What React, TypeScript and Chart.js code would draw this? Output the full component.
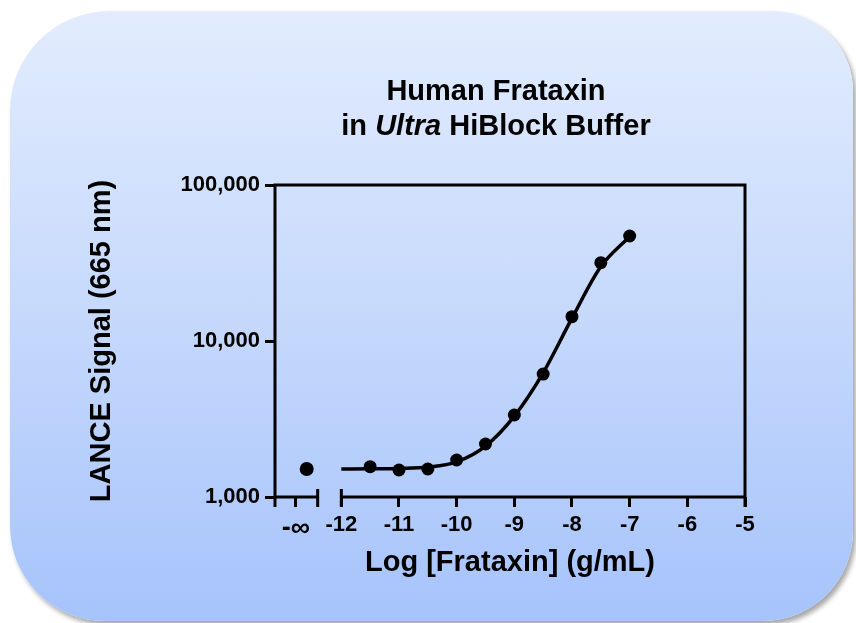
import React, { useEffect, useRef } from "react";
import { Chart, registerables } from "chart.js";

Chart.register(...registerables);

// ---- text ----
const TITLE_LINE_1 = "Human Frataxin";
const TITLE_LINE_2_PRE = "in ";
const TITLE_LINE_2_ITALIC = "Ultra";
const TITLE_LINE_2_POST = " HiBlock Buffer";
const X_TITLE = "Log [Frataxin] (g/mL)";
const Y_TITLE = "LANCE Signal (665 nm)";

// ---- data ----
const logConc = [-11.5, -11, -10.5, -10, -9.5, -9, -8.5, -8, -7.5, -7];
const signal = [1564, 1490, 1512, 1726, 2187, 3354, 6141, 14310, 31770, 47100];

// zero-concentration (blank) point, plotted in the "-∞" segment
const blankX = [-12.6];
const blankSignal = [1512];

// fitted curve
const fitX = [-12, -11.5, -11, -10.5, -10, -9.5, -9, -8.5, -8, -7.5, -7];
const fitY = [1510, 1515, 1525, 1555, 1680, 2120, 3300, 6250, 14000, 30000, 46800];

// ---- axes ----
const xTickValues = [-12, -11, -10, -9, -8, -7, -6, -5];
const negInfTick = -12.79;
const negInfLabel = "-∞";
const xMin = -13.15;
const xMax = -5;
const breakEnd = -12.41; // right end of the "-∞" segment
const yTickValues = [1000, 10000, 100000];
const yMin = 1000;
const yMax = 100000;

const FONT_FAMILY = "'Liberation Sans', Arial, Helvetica, sans-serif";

const framePlugin = {
  id: "frame",
  beforeDatasetsDraw(chart: any) {
    const { ctx, chartArea: a, scales } = chart;
    const x = scales.x;
    const xb = x.getPixelForValue(breakEnd);
    const x12 = x.getPixelForValue(-12);
    ctx.save();
    ctx.strokeStyle = "#000";
    ctx.lineWidth = 3;
    ctx.lineCap = "butt";
    ctx.beginPath();
    // left axis (with extension below)
    ctx.moveTo(a.left, a.top - 1.5);
    ctx.lineTo(a.left, a.bottom + 10);
    // top frame
    ctx.moveTo(a.left - 1.5, a.top);
    ctx.lineTo(a.right + 1.5, a.top);
    // right frame (with extension below)
    ctx.moveTo(a.right, a.top - 1.5);
    ctx.lineTo(a.right, a.bottom + 10);
    // bottom axis, broken
    ctx.moveTo(a.left, a.bottom);
    ctx.lineTo(xb, a.bottom);
    ctx.moveTo(x12, a.bottom);
    ctx.lineTo(a.right, a.bottom);
    // end caps at the break
    ctx.moveTo(xb, a.bottom - 8);
    ctx.lineTo(xb, a.bottom + 10);
    ctx.moveTo(x12, a.bottom - 8);
    ctx.lineTo(x12, a.bottom + 10);
    ctx.stroke();
    ctx.restore();
  },
};

export default function App() {
  const canvasRef = useRef<HTMLCanvasElement | null>(null);

  useEffect(() => {
    if (!canvasRef.current) return;
    Chart.defaults.font.family = FONT_FAMILY;
    const tickFont = { family: FONT_FAMILY, size: 22, weight: "bold" as const };
    const infFont = { family: FONT_FAMILY, size: 27, weight: "bold" as const };
    const titleFont = { family: FONT_FAMILY, size: 29, weight: "bold" as const };
    const grid = {
      drawOnChartArea: false,
      drawTicks: true,
      tickLength: 10,
      lineWidth: 3,
      color: "#000",
    };

    const chart = new Chart(canvasRef.current, {
      type: "scatter",
      data: {
        datasets: [
          {
            label: "Data",
            data: logConc.map((v, i) => ({ x: v, y: signal[i] })),
            backgroundColor: "#000",
            borderColor: "#000",
            borderWidth: 0,
            pointRadius: 6.5,
            showLine: false,
            order: 0,
          },
          {
            label: "Blank",
            data: blankX.map((v, i) => ({ x: v, y: blankSignal[i] })),
            backgroundColor: "#000",
            borderColor: "#000",
            borderWidth: 0,
            pointRadius: 7,
            showLine: false,
            order: 0,
          },
          {
            label: "Fit",
            data: fitX.map((v, i) => ({ x: v, y: fitY[i] })),
            borderColor: "#000",
            backgroundColor: "#000",
            borderWidth: 3.5,
            pointRadius: 0,
            showLine: true,
            cubicInterpolationMode: "monotone",
            order: 1,
          } as any,
        ],
      },
      options: {
        responsive: false,
        animation: false,
        layout: { padding: { left: 85, right: 111, top: 185, bottom: 30 } },
        plugins: {
          legend: { display: false },
          tooltip: { enabled: false },
          title: { display: false },
        },
        scales: {
          x: {
            type: "linear",
            min: xMin,
            max: xMax,
            afterBuildTicks: (s: any) => {
              s.ticks = [negInfTick, ...xTickValues].map((v) => ({ value: v }));
            },
            afterFit: (s: any) => {
              s.height = 96;
            },
            ticks: {
              autoSkip: false,
              maxRotation: 0,
              padding: 5,
              color: "#000",
              font: (c: any) => (c.tick && c.tick.value === negInfTick ? infFont : tickFont),
              callback: (v: any) => (v === negInfTick ? negInfLabel : String(v)),
            },
            grid,
            border: { display: false },
            title: {
              display: true,
              text: X_TITLE,
              color: "#000",
              font: titleFont,
              padding: { top: 0, bottom: 13 },
            },
          },
          y: {
            type: "logarithmic",
            min: yMin,
            max: yMax,
            afterBuildTicks: (s: any) => {
              s.ticks = yTickValues.map((v) => ({ value: v }));
            },
            afterFit: (s: any) => {
              s.width = 190;
            },
            ticks: {
              padding: 5,
              color: "#000",
              font: tickFont,
              callback: (v: any) => Number(v).toLocaleString("en-US"),
            },
            grid,
            border: { display: false },
            title: {
              display: true,
              text: Y_TITLE,
              color: "#000",
              font: titleFont,
              padding: { top: 0, bottom: 0 },
            },
          },
        },
      } as any,
      plugins: [framePlugin],
    });
    return () => chart.destroy();
  }, []);

  return (
    <div
      style={{
        position: "fixed",
        left: 0,
        top: 0,
        width: 856,
        height: 623,
        background: "#fff",
        overflow: "hidden",
      }}
    >
      <div
        style={{
          position: "absolute",
          left: 10,
          top: 11,
          width: 843,
          height: 610,
          borderRadius: "100px 80px 90px 95px",
          background: "linear-gradient(to bottom, #e2ecfd 0%, #c6d9fc 50%, #a6c3fb 100%)",
          boxShadow: "3px 4px 5px rgba(0,0,0,0.35)",
        }}
      />
      <canvas
        ref={canvasRef}
        width={856}
        height={623}
        style={{ position: "absolute", left: 0, top: 0, width: 856, height: 623 }}
      />
      <div
        style={{
          position: "absolute",
          left: 246,
          top: 73,
          width: 500,
          textAlign: "center",
          fontFamily: FONT_FAMILY,
          fontWeight: "bold",
          fontSize: 29,
          lineHeight: "35px",
          color: "#000",
        }}
      >
        <div>{TITLE_LINE_1}</div>
        <div>
          {TITLE_LINE_2_PRE}
          <i>{TITLE_LINE_2_ITALIC}</i>
          {TITLE_LINE_2_POST}
        </div>
      </div>
    </div>
  );
}
